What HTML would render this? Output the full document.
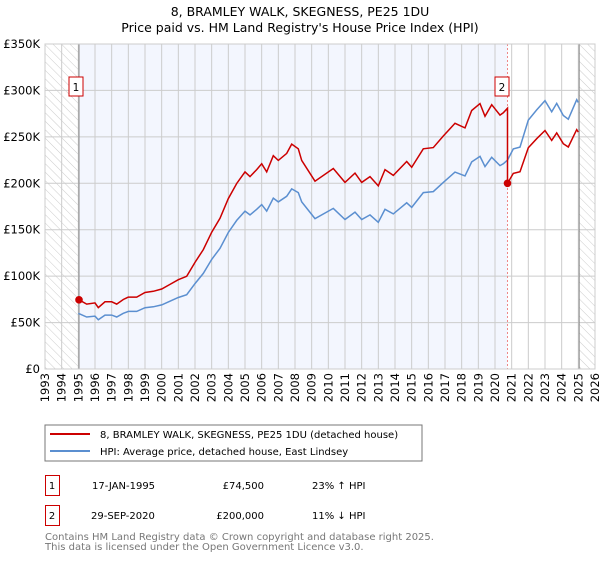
<!DOCTYPE html>
<html><head><meta charset="utf-8"><style>
body{margin:0;background:#fff;font-family:"Liberation Sans","DejaVu Sans",sans-serif;}
svg text{font-family:"DejaVu Sans","Liberation Sans",sans-serif;}
</style></head><body>
<svg id="c" width="600" height="560" xmlns="http://www.w3.org/2000/svg">
<defs><pattern id="hatch" width="6" height="6" patternUnits="userSpaceOnUse" patternTransform="rotate(-45)"><line x1="0" y1="0" x2="0" y2="6" stroke="#ccc" stroke-width="1"/></pattern></defs>
<text x="300" y="16" text-anchor="middle" font-size="12.5" fill="#000">8, BRAMLEY WALK, SKEGNESS, PE25 1DU</text>
<text x="300" y="32" text-anchor="middle" font-size="12.5" fill="#000">Price paid vs. HM Land Registry's House Price Index (HPI)</text>
<g id="plot"></g>
<rect x="45" y="425" width="377" height="36" fill="#fff" stroke="#777"/>
<line x1="50" y1="434" x2="90" y2="434" stroke="#cc0000" stroke-width="2"/>
<text x="100" y="438" font-size="10">8, BRAMLEY WALK, SKEGNESS, PE25 1DU (detached house)</text>
<line x1="50" y1="451" x2="90" y2="451" stroke="#5b8fd0" stroke-width="2"/>
<text x="100" y="455" font-size="10">HPI: Average price, detached house, East Lindsey</text>
<g>
<rect x="45.5" y="475.5" width="14" height="20" fill="none" stroke="#cc0000"/>
<text x="52" y="489" text-anchor="middle" font-size="10">1</text>
<text x="92" y="489" font-size="10">17-JAN-1995</text>
<text x="264" y="489" text-anchor="end" font-size="10">£74,500</text>
<text x="312" y="489" font-size="10">23% ↑ HPI</text></g>
<g>
<rect x="45.5" y="505.5" width="14" height="20" fill="none" stroke="#cc0000"/>
<text x="52" y="519" text-anchor="middle" font-size="10">2</text>
<text x="91" y="519" font-size="10">29-SEP-2020</text>
<text x="264" y="519" text-anchor="end" font-size="10">£200,000</text>
<text x="312" y="519" font-size="10">11% ↓ HPI</text></g>
<text x="45" y="540" font-size="10" fill="#777">Contains HM Land Registry data © Crown copyright and database right 2025.</text>
<text x="45" y="550" font-size="10" fill="#777">This data is licensed under the Open Government Licence v3.0.</text>
</svg>
<script>
const hpiYears=[1995.0,1995.5,1996.0,1996.2,1996.6,1997.0,1997.3,1997.7,1998.0,1998.5,1999.0,1999.5,2000.0,2000.5,2001.0,2001.5,2002.0,2002.5,2003.0,2003.5,2004.0,2004.5,2005.0,2005.3,2005.7,2006.0,2006.3,2006.7,2007.0,2007.5,2007.8,2008.2,2008.4,2009.2,2010.3,2011.0,2011.6,2012.0,2012.5,2013.0,2013.4,2013.9,2014.7,2015.0,2015.7,2016.3,2016.9,2017.6,2018.2,2018.6,2019.1,2019.4,2019.8,2020.3,2020.5,2020.75,2021.1,2021.5,2022.0,2022.5,2023.0,2023.4,2023.7,2024.1,2024.4,2024.9,2025.0];
const hpiValues=[60,56,57,53,58,58,56,60,62,62,66,67,69,73,77,80,92,103,118,130,147,160,170,166,172,177,170,184,180,186,194,190,180,162,173,161,169,161,166,158,172,167,179,174,190,191,201,212,208,223,229,218,228,219,221,225,237,239,268,279,289,277,286,273,269,290,287];
const saleYears=[1995.04,2020.75];
const salePrices=[74.5,200];
const saleLabels=["1","2"];
const yTicks=[0,50,100,150,200,250,300,350];
const yTickLabels=["£0","£50K","£100K","£150K","£200K","£250K","£300K","£350K"];
const xTicks=[1993,1994,1995,1996,1997,1998,1999,2000,2001,2002,2003,2004,2005,2006,2007,2008,2009,2010,2011,2012,2013,2014,2015,2016,2017,2018,2019,2020,2021,2022,2023,2024,2025,2026];

const X0=45,X1=595,Y0=369,Y1=44,YMIN=1993,YMAX=2026,VMAX=350;
const sx=y=>X0+(y-YMIN)/(YMAX-YMIN)*(X1-X0);
const sy=v=>Y0-v/VMAX*(Y0-Y1);
const NS="http://www.w3.org/2000/svg";
const g=document.getElementById('plot');
function mk(t,a){const e=document.createElementNS(NS,t);for(const k in a)e.setAttribute(k,a[k]);g.appendChild(e);return e;}
function hpiAt(y){for(let i=0;i<hpiYears.length-1;i++){if(y>=hpiYears[i]&&y<=hpiYears[i+1]){const t=(y-hpiYears[i])/(hpiYears[i+1]-hpiYears[i]);return hpiValues[i]+t*(hpiValues[i+1]-hpiValues[i]);}}return hpiValues[hpiValues.length-1];}

let e=mk('rect',{x:X0,y:Y1,width:X1-X0,height:Y0-Y1,fill:'#fff'});


e=mk('rect',{x:sx(saleYears[0]),y:Y1,width:sx(saleYears[1])-sx(saleYears[0]),height:Y0-Y1,fill:'#f3f6fe'});


e=mk('rect',{x:X0,y:Y1,width:sx(saleYears[0])-X0,height:Y0-Y1,fill:'url(#hatch)'});


e=mk('rect',{x:sx(2025.05),y:Y1,width:X1-sx(2025.05),height:Y0-Y1,fill:'url(#hatch)'});


yTicks.forEach((v,i)=>{
 let l=mk('line',{x1:X0,x2:X1,y1:sy(v),y2:sy(v),stroke:'#ccc','stroke-width':1});
 
 
 let t=mk('text',{x:40,y:sy(v)+4,'text-anchor':'end','font-size':11.5});
 t.textContent=yTickLabels[i];
 
 
});
xTicks.forEach(y=>{
 let l=mk('line',{x1:sx(y),x2:sx(y),y1:Y1,y2:Y0,stroke:'#ccc','stroke-width':1});
 
 
 let t=mk('text',{x:0,y:0,'text-anchor':'end','font-size':11.5,transform:`translate(${sx(y)+4},373) rotate(-90)`});
 t.textContent=y;
 
 
});
e=mk('line',{x1:sx(saleYears[0]),x2:sx(saleYears[0]),y1:Y1,y2:Y0,stroke:'#888','stroke-width':1});


e=mk('line',{x1:sx(saleYears[1]),x2:sx(saleYears[1]),y1:Y1,y2:Y0,stroke:'#e88','stroke-width':1,'stroke-dasharray':'2,2'});


e=mk('line',{x1:sx(2025.05),x2:sx(2025.05),y1:Y1,y2:Y0,stroke:'#888','stroke-width':1});


e=mk('rect',{x:X0,y:Y1,width:X1-X0,height:Y0-Y1,fill:'none',stroke:'#ccc'});



let hp=hpiYears.map((y,i)=>sx(y).toFixed(1)+','+sy(hpiValues[i]).toFixed(1)).join(' ');
e=mk('polyline',{points:hp,fill:'none',stroke:'#5b8fd0','stroke-width':1.5});


const r1=salePrices[0]/hpiAt(saleYears[0]), r2=salePrices[1]/hpiAt(saleYears[1]);
let pts=[[saleYears[0],salePrices[0]]];
hpiYears.forEach((y,i)=>{if(y>saleYears[0]&&y<saleYears[1])pts.push([y,hpiValues[i]*r1]);});
pts.push([saleYears[1],hpiAt(saleYears[1])*r1]);
pts.push([saleYears[1],salePrices[1]]);
hpiYears.forEach((y,i)=>{if(y>saleYears[1])pts.push([y,hpiValues[i]*r2]);});
e=mk('polyline',{points:pts.map(p=>sx(p[0]).toFixed(1)+','+sy(p[1]).toFixed(1)).join(' '),fill:'none',stroke:'#cc0000','stroke-width':1.5});


const boxOff=[-3,-5.5];
saleYears.forEach((y,i)=>{
 let c=mk('circle',{cx:sx(y),cy:sy(salePrices[i]),r:3.8,fill:'#cc0000'});
 
 
 let bx=sx(y)+boxOff[i]-7;
 let r=mk('rect',{x:bx,y:77,width:14,height:19,fill:'#fff',stroke:'#cc0000'});
 
 
 let t=mk('text',{x:bx+7,y:91,'text-anchor':'middle','font-size':10.5});
 t.textContent=saleLabels[i];
 
 
});
</script>
</body></html>
